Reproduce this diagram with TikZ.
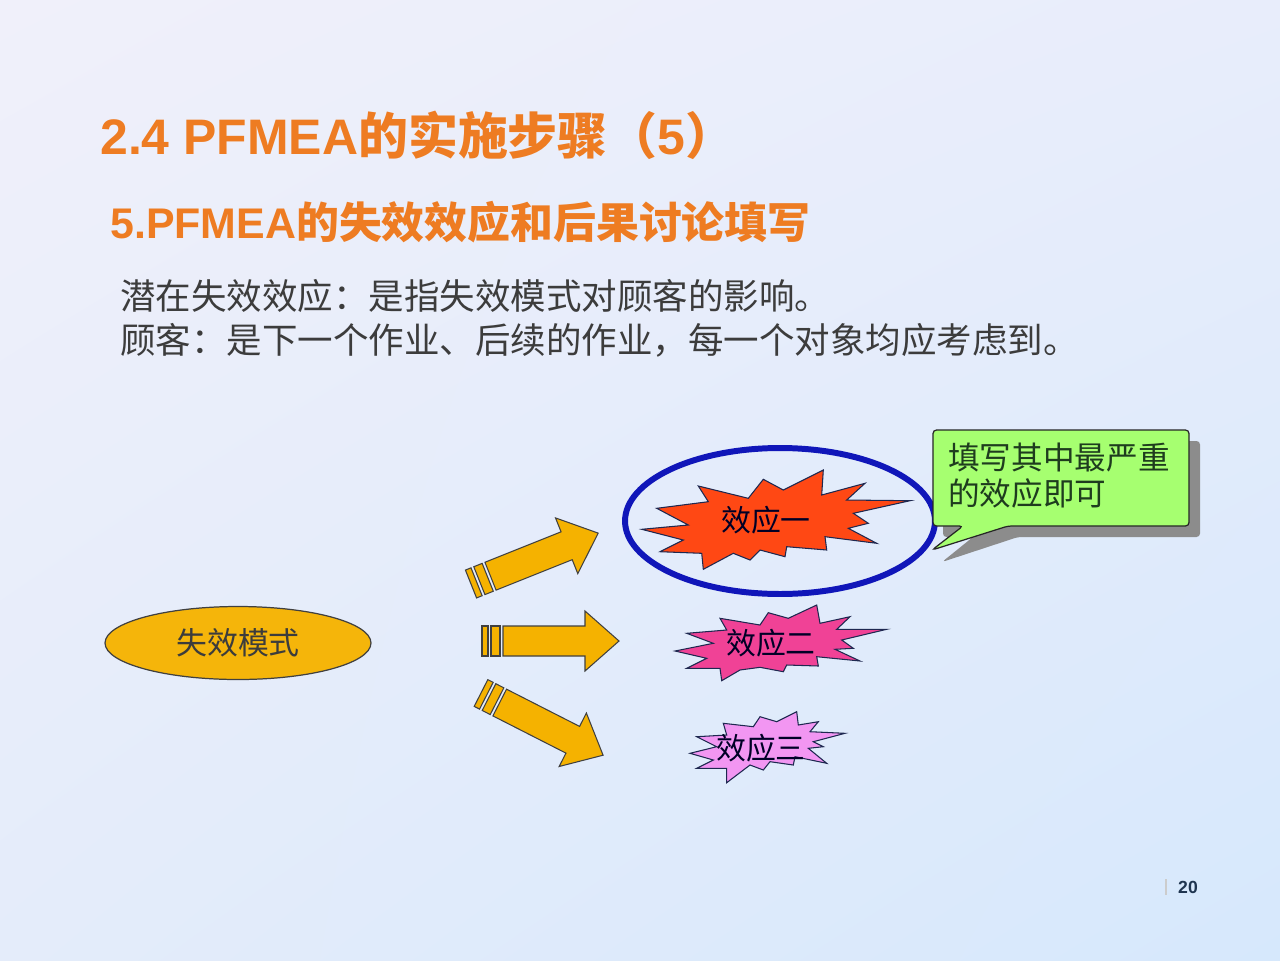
\documentclass[tikz,border=0pt]{standalone}
\usepackage{fontspec}
\setmainfont{Noto Sans CJK SC}
\newfontfamily\lat{Liberation Sans}
\usetikzlibrary{shapes.geometric,shadings}
\definecolor{bgA}{RGB}{240,240,250}
\definecolor{bgB}{RGB}{232,237,251}
\definecolor{bgC}{RGB}{228,236,250}
\definecolor{bgD}{RGB}{214,232,252}
\definecolor{titleor}{RGB}{238,124,34}
\definecolor{bodytx}{RGB}{60,60,60}
\definecolor{arrowfill}{RGB}{245,178,0}
\definecolor{modefill}{RGB}{245,181,10}
\definecolor{ringblue}{RGB}{16,22,185}
\definecolor{starred}{RGB}{255,72,20}
\definecolor{starpink}{RGB}{240,66,150}
\definecolor{starviolet}{RGB}{242,150,242}
\definecolor{starline}{RGB}{30,40,80}
\definecolor{calloutfill}{RGB}{166,255,112}
\definecolor{callouttx}{RGB}{30,60,30}
\definecolor{pagetx}{RGB}{31,53,80}
\tikzset{
  arrowstyle/.style={fill=arrowfill,draw=black!75,line width=0.6pt,line join=miter},
  stripearrow/.pic={
    \path[arrowstyle] (0,-15) rectangle (6,15);
    \path[arrowstyle] (9,-15) rectangle (18,15);
    \path[arrowstyle] (21,-15) -- (103,-15) -- (103,-30) -- (137,0) -- (103,30) -- (103,15) -- (21,15) -- cycle;
  },
  starstyle/.style={draw=starline,line width=0.6pt,line join=miter},
  startext/.style={inner sep=0pt,text=black!75!blue!60!black,font=\fontsize{17pt}{20pt}\selectfont},
  bodystyle/.style={inner sep=0pt,anchor=base west,text=bodytx,font=\fontsize{20.2pt}{24pt}\selectfont},
}
\begin{document}
\begin{tikzpicture}[x=0.02cm,y=-0.02cm]
\useasboundingbox (0,0) rectangle (1280,960);
\shade[upper left=bgA, upper right=bgB, lower left=bgC, lower right=bgD] (0,0) rectangle (1280,960);

% titles
\node[inner sep=0pt,anchor=base west,text=titleor,font=\fontsize{28.4pt}{32pt}\selectfont\bfseries] (title) at (100,154)
  {{\lat 2.4 PFMEA}的实施步骤（{\lat 5}）};
\node[inner sep=0pt,anchor=base west,text=titleor,font=\fontsize{24.4pt}{28pt}\selectfont\bfseries] (sub) at (110,238)
  {{\lat 5.PFMEA}的失效效应和后果讨论填写};
\node[bodystyle] (b1) at (120,309) {潜在失效效应：是指失效模式对顾客的影响。};
\node[bodystyle] (b2) at (120,353) {顾客：是下一个作业、后续的作业，每一个对象均应考虑到。};

% failure mode
\node[ellipse,draw=black!75,line width=0.7pt,fill=modefill,minimum width=5.32cm,minimum height=1.46cm,inner sep=0pt,
  text=bodytx,font=\fontsize{17.6pt}{20pt}\selectfont] (mode) at (238,643) {失效模式};

% arrows
\coordinate (a1) at (471,584);
\coordinate (a2) at (482,641);
\coordinate (a3) at (481,693);
\pic[rotate=21.8] at (a1) {stripearrow};
\pic at (a2) {stripearrow};
\pic[rotate=-27] at (a3) {stripearrow};

% starbursts
\path[starstyle,fill=starred] (641.7,529.3) -- (688.3,525) -- (656.7,508.3) -- (708.3,501.7) -- (698.3,486) -- (748.3,498.3) -- (763.3,479.3) -- (783.3,490) -- (823.3,470) -- (821.7,495) -- (865,483.3) -- (846.7,500) -- (910,500.7) -- (853.3,513.3) -- (868.3,523.3) -- (848.3,528.3) -- (876.7,543.3) -- (825,536.7) -- (826.7,550) -- (786.7,546.7) -- (785,556.7) -- (760,550) -- (750,560) -- (733.3,553.3) -- (703.3,569.3) -- (701.7,553.3) -- (660,551.7) -- (683.3,540) -- cycle;
\node[startext] (e1) at (766,520) {效应一};

\path[starstyle,fill=starpink] (675,651) -- (713.3,643.3) -- (686.7,633.3) -- (726.7,630) -- (720,618.3) -- (760,625) -- (768.3,612.7) -- (788.3,618.3) -- (816.7,605) -- (820,623.3) -- (850,616.7) -- (836.7,629.3) -- (886.7,629.3) -- (841.7,640) -- (853.3,648.3) -- (835,649.3) -- (860,661) -- (816.7,656.7) -- (818.3,666) -- (786.7,665) -- (783.3,671.7) -- (760,667.3) -- (740,670) -- (721.7,680.7) -- (720,668.3) -- (686.7,668.3) -- (706.7,658.3) -- cycle;
\node[startext] (e2) at (771,643) {效应二};

\path[starstyle,fill=starviolet] (690,753.3) -- (716.7,746.7) -- (696.7,736.7) -- (726.7,735) -- (723.3,723.3) -- (753.3,726.7) -- (760,716.7) -- (776.7,721.7) -- (796.7,711.7) -- (798.3,725) -- (818.3,721.7) -- (810,731.7) -- (845,733.3) -- (813.3,741.7) -- (823.3,746.7) -- (808.3,748.3) -- (826.7,763.3) -- (795,756.7) -- (793.3,765) -- (770,761.7) -- (763.3,770) -- (750,765) -- (726.7,782.7) -- (726.7,768.3) -- (696.7,768.3) -- (713.3,760) -- cycle;
\node[startext] (e3) at (761,748) {效应三};

% blue ring
\node[ellipse,draw=ringblue,line width=3.4pt,minimum width=6.2cm,minimum height=2.92cm,inner sep=0pt] (ring) at (780,521) {};

% callout
\fill[black!45,rounded corners=2pt] (943,441) -- (1200,441) -- (1200,537) -- (1018,537) -- (942,562) -- (973,537) -- (943,537) -- cycle;
\path[draw=black!85,line width=0.7pt,fill=calloutfill,rounded corners=2pt] (933,430) -- (1189,430) -- (1189,526) -- (1008,526) -- (932,550) -- (963,526) -- (933,526) -- cycle;
\node[inner sep=0pt,anchor=base west,text=callouttx,font=\fontsize{18pt}{20pt}\selectfont] (c1) at (948,469) {填写其中最严重};
\node[inner sep=0pt,anchor=base west,text=callouttx,font=\fontsize{18pt}{20pt}\selectfont] (c2) at (948,505) {的效应即可};

% page number
\draw[black!20,line width=0.8pt] (1166,879) -- (1166,895);
\node[inner sep=0pt,text=pagetx,font=\lat\bfseries\fontsize{10pt}{12pt}\selectfont] (pg) at (1188,887) {20};
\end{tikzpicture}
\end{document}
